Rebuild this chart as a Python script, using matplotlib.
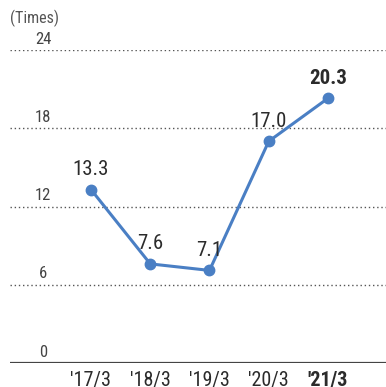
import matplotlib
matplotlib.use("Agg")
import matplotlib.pyplot as plt
import matplotlib.transforms as mtransforms

years = ["'17/3", "'18/3", "'19/3", "'20/3", "'21/3"]
values = [13.3, 7.6, 7.1, 17.0, 20.3]
yticks = [0, 6, 12, 18, 24]

plt.rcParams["font.family"] = ["Roboto Condensed", "DejaVu Sans"]

blue = "#4a7fc4"
txt = "#2b2b2b"

fig = plt.figure(figsize=(3.86, 3.87), dpi=100)
ax = fig.add_axes([10 / 386, 24 / 387, 376 / 386, 313 / 387])

x = list(range(len(values)))
ax.plot(x, values, color=blue, lw=2.2, marker="o", ms=7.5, zorder=3)

# value labels above each point, the latest year in bold
for i, v in enumerate(values):
    last = i == len(values) - 1
    ax.annotate(f"{v:.1f}", (i, v), xytext=(0, 7.5), textcoords="offset points",
                ha="center", va="bottom", fontsize=15, color=txt,
                fontweight="bold" if last else "normal")

for t in yticks[1:]:
    ax.axhline(t, color="#555555", lw=1, ls=(0, (1, 2)), zorder=1)
ax.axhline(0, color="#444444", lw=1.6, zorder=2)

trans = mtransforms.blended_transform_factory(ax.transAxes, ax.transData)
for t in yticks:
    ax.annotate(str(t), (33 / 376, t), xycoords=trans, xytext=(0, 2.5),
                textcoords="offset points", ha="center", va="bottom",
                fontsize=12, color="#444444")

for i, lab in enumerate(years):
    last = i == len(years) - 1
    ax.annotate(lab, (i, 0), xytext=(0, -6), textcoords="offset points",
                ha="center", va="top", fontsize=14.5, color=txt,
                fontweight="bold" if last else "normal", annotation_clip=False)

fig.text(10 / 386, 1 - 18 / 387, "(Times)", ha="left", va="center",
         fontsize=11.5, color="#555555")

ax.set_xlim(-(91 - 10) / 59.25, 4 + (386 - 328) / 59.25)
ax.set_ylim(0, 24)
ax.axis("off")

fig.savefig("out.png", dpi=100)
